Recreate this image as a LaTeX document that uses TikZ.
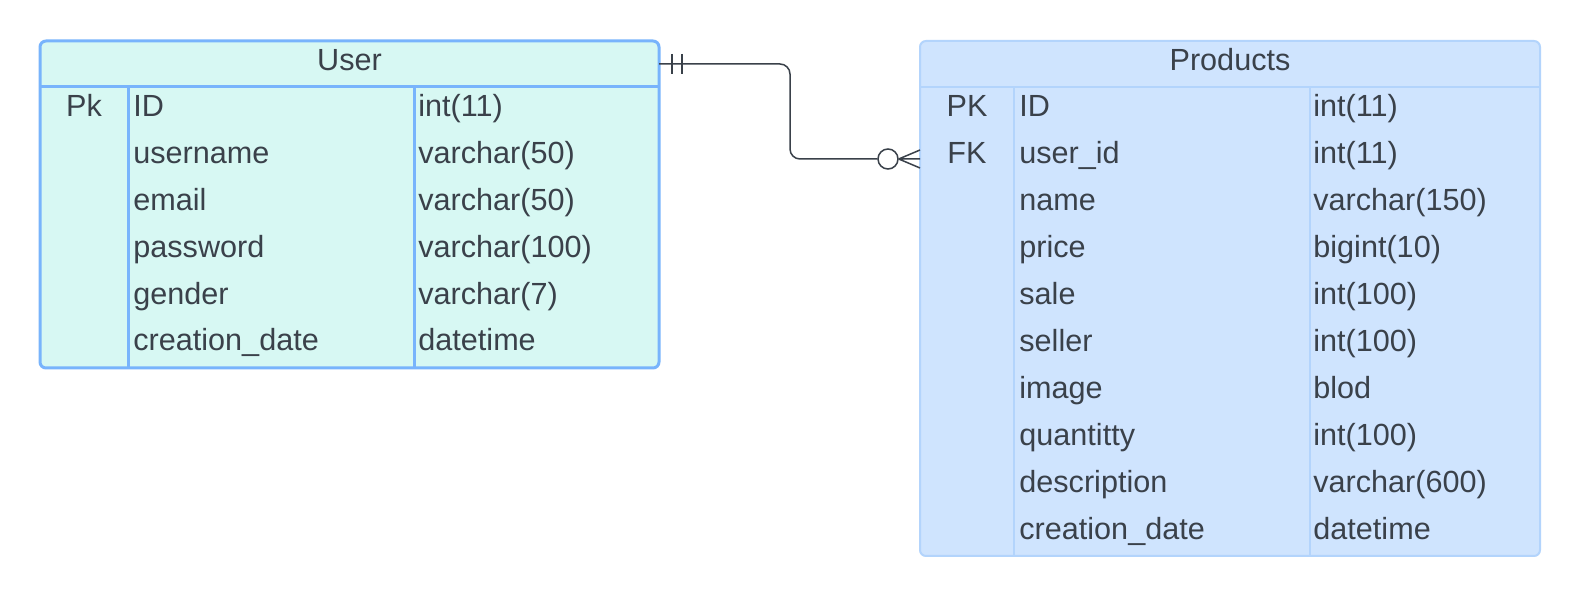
\documentclass[tikz,border=0pt]{standalone}
\usepackage{fontspec}
\setmainfont{Liberation Sans}
\definecolor{txt}{HTML}{3A414A}
\definecolor{ufill}{HTML}{D7F8F3}
\definecolor{uline}{HTML}{78B4FC}
\definecolor{pfill}{HTML}{CFE4FE}
\definecolor{pline}{HTML}{B3D4FC}
\begin{document}
\begin{tikzpicture}[x=0.5pt,y=-0.5pt,
  tab/.style={anchor=north west, inner sep=0, outer sep=0, rounded corners=3pt},
  cell/.style={inner sep=0, anchor=base west, text=txt, font=\fontsize{15.3}{18}\selectfont},
  keycell/.style={cell, anchor=base},
  conn/.style={draw=txt, line width=0.75pt}]
\useasboundingbox[fill=white] (0,0) rectangle (1580,597);
% User table
\node[tab, draw=uline, fill=ufill, line width=1.5pt, minimum width=309.5pt, minimum height=163.5pt] (user) at (40,41) {};
\draw[uline, line width=1.5pt] (40,87) -- (659,87) (128,87) -- (128,368) (414,87) -- (414,368);
\node[keycell] (utitle) at (349.5,71) {User};
\node[keycell] (ukey1) at (84,117) {Pk};
\foreach \n/\t [count=\i from 0] in {ID/int(11), username/varchar(50), email/varchar(50), password/varchar(100), gender/varchar(7), creation\_date/datetime}{
  \node[cell] (uname\i) at (133,117+46.8*\i) {\n};
  \node[cell] (utype\i) at (418,117+46.8*\i) {\t};
}
% Products table
\node[tab, draw=pline, fill=pfill, line width=1pt, minimum width=310pt, minimum height=257.5pt] (prod) at (920,41) {};
\draw[pline, line width=1pt] (920,87) -- (1540,87) (1014,87) -- (1014,556) (1310,87) -- (1310,556);
\node[keycell] (ptitle) at (1230,71) {Products};
\node[keycell] (pkey1) at (967,117) {PK};
\node[keycell] (pkey2) at (967,163.9) {FK};
\foreach \n/\t [count=\i from 0] in {ID/int(11), user\_id/int(11), name/varchar(150), price/bigint(10), sale/int(100), seller/int(100), image/blod, quantitty/int(100), description/varchar(600), creation\_date/datetime}{
  \node[cell] (pname\i) at (1019,117+46.9*\i) {\n};
  \node[cell] (ptype\i) at (1313,117+46.9*\i) {\t};
}
% relationship
\coordinate (ustart) at (659,64);
\coordinate (pend) at (920,159);
\node[circle, draw=txt, line width=0.75pt, minimum size=10pt, inner sep=0, fill=white] (ring) at (888,159) {};
\draw[conn, rounded corners=5pt] (ustart) -- (790,64) -- (790,159) -- (ring.west);
\draw[conn] (ring.east) -- (pend |- 0,150) (ring.east) -- (pend) (ring.east) -- (pend |- 0,168);
\draw[conn] (672,54) -- (672,74) (682,54) -- (682,74);
\end{tikzpicture}
\end{document}
